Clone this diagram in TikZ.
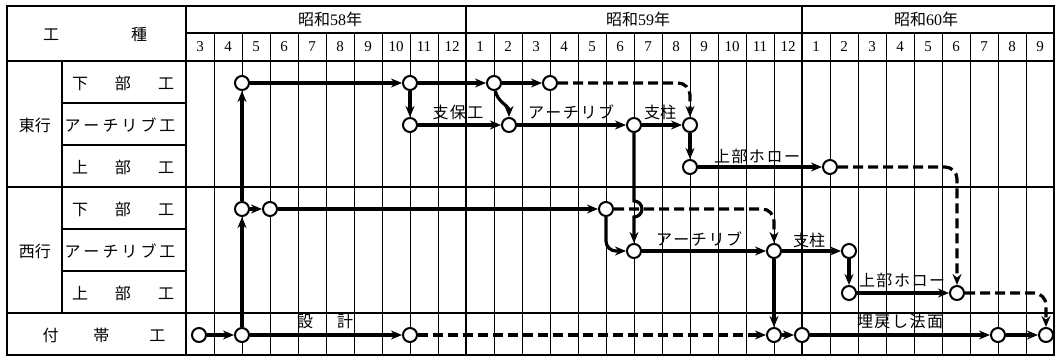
\documentclass[tikz,border=0pt]{standalone}
\usepackage{fontspec}
\setmainfont{Liberation Serif}
\newfontfamily\jp{Noto Sans CJK JP}
\usetikzlibrary{arrows.meta}
\newcommand\lsp{\kern1.5pt}
\newcommand\lsq{\kern3pt}
\begin{document}
\begin{tikzpicture}[x=1pt,y=-1pt,
  ev/.style={circle,draw,line width=2pt,fill=white,minimum size=14pt,inner sep=0pt},
  act/.style={line width=3.2pt,-{Stealth[length=11pt,width=9pt]}},
  dum/.style={act,dash pattern=on 10pt off 5pt},
  gridv/.style={line width=0.8pt},
  gridh/.style={line width=1.1pt},
  frame/.style={line width=2.2pt},
  lbl/.style={font=\jp\fontsize{16}{16}\selectfont,inner sep=0pt},
  side/.style={font=\jp\fontsize{16}{16}\selectfont,inner sep=0pt},
  mon/.style={font=\fontsize{15}{15}\selectfont,inner sep=0pt},
  yr/.style={font=\fontsize{16}{16}\selectfont,inner sep=0pt},
  ]
\useasboundingbox (0,0) rectangle (1058,359);
% grid
\foreach \t in {1,...,9,11,12,...,21,23,24,...,30}
  \draw[gridv] ({186+28*\t},33) -- ({186+28*\t},355);
\foreach \t in {10,22}
  \draw[gridh] ({186+28*\t},6) -- ({186+28*\t},355);
\draw[gridh] (186,33) -- (1054,33);
\draw[gridh] (7,61) -- (1054,61);
\draw[gridh] (7,187) -- (1054,187);
\draw[gridh] (7,313) -- (1054,313);
\foreach \yy in {103,145,229,271}
  \draw[gridh] (62,\yy) -- (186,\yy);
\draw[gridh] (62,61) -- (62,313);
\draw[frame] (186,6) -- (186,355);
\draw[frame] (7,6) rectangle (1054,355);
% header texts
\node[side] (hk) at (95,34) {工\hspace{72pt}種};
\node[yr] (y58) at (330,19) {{\jp 昭和}58{\jp 年}};
\node[yr] (y59) at (638,19) {{\jp 昭和}59{\jp 年}};
\node[yr] (y60) at (926,19) {{\jp 昭和}60{\jp 年}};
\foreach \m in {3,...,12}
  \node[mon] (ma\m) at ({186+28*(\m-3)+14},47) {\m};
\foreach \m in {1,...,12}
  \node[mon] (mb\m) at ({186+28*(\m+9)+14},47) {\m};
\foreach \m in {1,...,9}
  \node[mon] (mc\m) at ({186+28*(\m+21)+14},47) {\m};
% side labels
\node[side] (sE) at (35,125) {東行};
\node[side] (sW) at (35,251) {西行};
\node[side] (sE1) at (123,83) {下\hspace{27pt}部\hspace{27pt}工};
\node[side] (sE2) at (120,125) {ア\lsq ー\lsq チ\lsq リ\lsq ブ\lsq 工};
\node[side] (sE3) at (123,167) {上\hspace{27pt}部\hspace{27pt}工};
\node[side] (sW1) at (123,209) {下\hspace{27pt}部\hspace{27pt}工};
\node[side] (sW2) at (120,251) {ア\lsq ー\lsq チ\lsq リ\lsq ブ\lsq 工};
\node[side] (sW3) at (123,293) {上\hspace{27pt}部\hspace{27pt}工};
\node[side] (sF) at (104,335) {付\hspace{35pt}帯\hspace{40pt}工};
% events
\node[ev] (E1) at (242,83) {};
\node[ev] (E2) at (410,83) {};
\node[ev] (E3) at (494,83) {};
\node[ev] (E4) at (550,83) {};
\node[ev] (EA1) at (410,125) {};
\node[ev] (EA2) at (509,125) {};
\node[ev] (EA3) at (634,125) {};
\node[ev] (EA4) at (690,125) {};
\node[ev] (EU1) at (690,167) {};
\node[ev] (EU2) at (830,167) {};
\node[ev] (W1) at (242,209) {};
\node[ev] (W2) at (270,209) {};
\node[ev] (W3) at (606,209) {};
\node[ev] (WA1) at (634,251) {};
\node[ev] (WA2) at (774,251) {};
\node[ev] (WA3) at (849,251) {};
\node[ev] (WU1) at (849,293) {};
\node[ev] (WU2) at (957,293) {};
\node[ev] (F0) at (199,335) {};
\node[ev] (F1) at (242,335) {};
\node[ev] (F2) at (410,335) {};
\node[ev] (F3) at (774,335) {};
\node[ev] (F4) at (802,335) {};
\node[ev] (F5) at (998,335) {};
\node[ev] (F6) at (1046,335) {};
% activities
\draw[act] (F0) -- (F1);
\draw[act] (F1) -- (W1);
\draw[act] (W1) -- (E1);
\draw[act] (E1) -- (E2);
\draw[act] (E2) -- (E3);
\draw[act] (E3) -- (E4);
\draw[dum,rounded corners=12pt] (E4) -| (EA4);
\draw[act] (E2) -- (EA1);
\draw[act] (EA1) -- (EA2);
\draw[act] (E3) to[out=-80,in=90] (EA2);
\draw[act] (EA2) -- (EA3);
\draw[act] (EA3) -- (EA4);
\draw[act] (EA4) -- (EU1);
\draw[act] (EU1) -- (EU2);
\draw[dum,rounded corners=12pt] (EU2) -| (WU2);
\draw[act] (EA3.south) -- (634,201) arc[start angle=90,end angle=-90,radius=8pt] -- (WA1.north);
\draw[act] (W1) -- (W2);
\draw[act] (W2) -- (W3);
\draw[dum,rounded corners=12pt] (W3) -| (WA2);
\draw[act,rounded corners=10pt] (W3) |- (WA1);
\draw[act] (WA1) -- (WA2);
\draw[act] (WA2) -- (WA3);
\draw[act] (WA3) -- (WU1);
\draw[act] (WU1) -- (WU2);
\draw[dum,rounded corners=12pt] (WU2) -| (F6);
\draw[act] (WA2) -- (F3);
\draw[act] (F1) -- (F2);
\draw[dum] (F2) -- (F3);
\draw[act] (F3) -- (F4);
\draw[act] (F4) -- (F5);
\draw[act] (F5) -- (F6);
% activity labels
\node[lbl] (tSK) at (325,321) {設\hspace{24pt}計};
\node[lbl] (tSH) at (458,112) {支\lsp 保\lsp 工};
\node[lbl] (tEA) at (571,112) {ア\lsp ー\lsp チ\lsp リ\lsp ブ};
\node[lbl] (tES) at (660,112) {支柱};
\node[lbl] (tEU) at (757,156) {上\lsp 部\lsp ホ\lsp ロ\lsp ー};
\node[lbl] (tWA) at (699,239) {ア\lsp ー\lsp チ\lsp リ\lsp ブ};
\node[lbl] (tWS) at (809,240) {支柱};
\node[lbl] (tWU) at (902,280) {上\lsp 部\lsp ホ\lsp ロ\lsp ー};
\node[lbl] (tUM) at (900,321) {埋\lsp 戻\lsp し\lsp 法\lsp 面};
\end{tikzpicture}
\end{document}
